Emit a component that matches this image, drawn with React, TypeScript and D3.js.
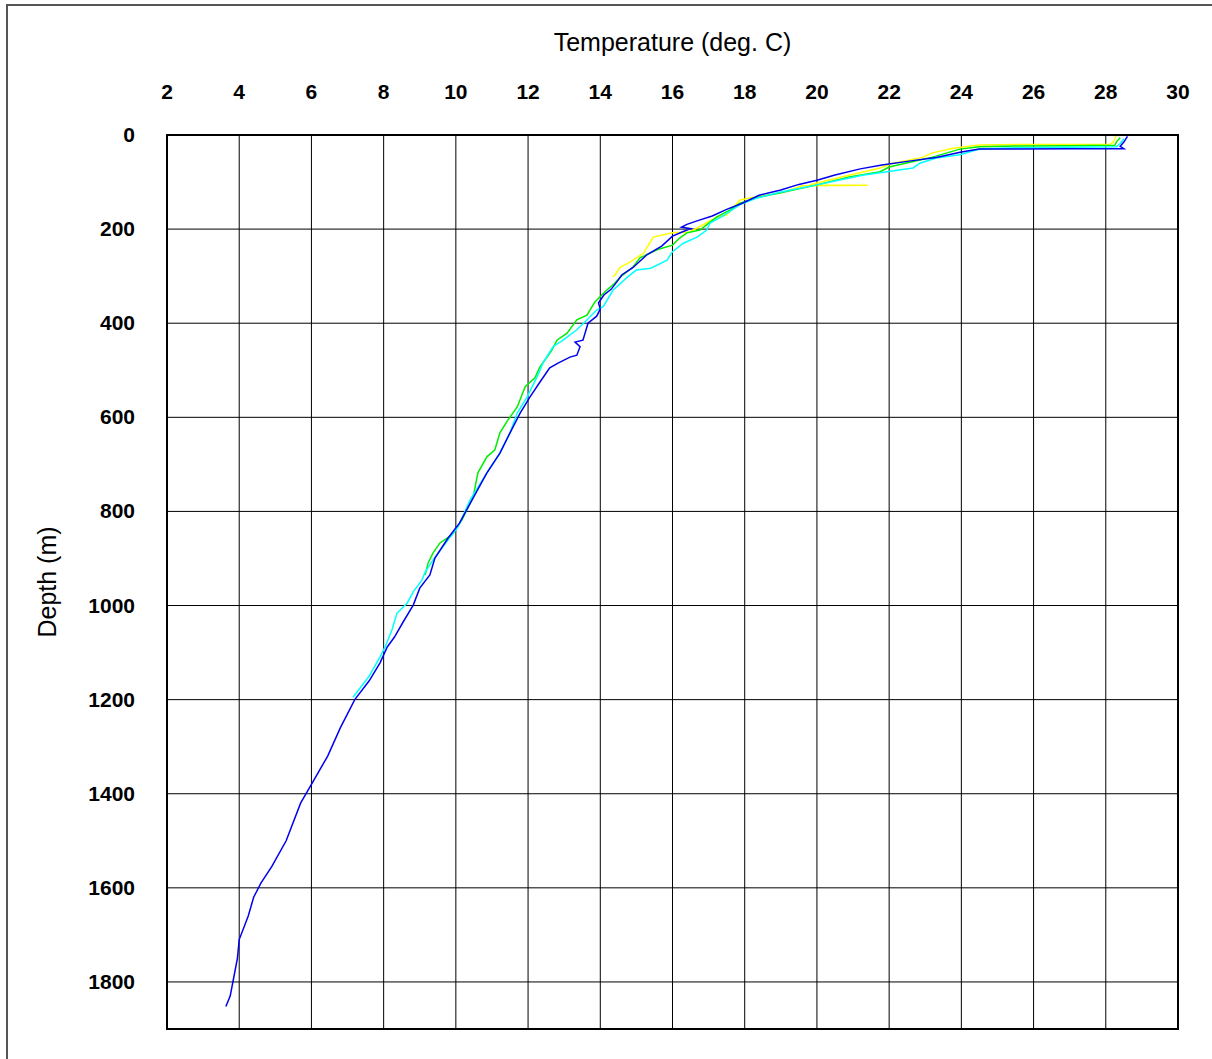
import React from "react";
import * as d3 from "d3";

const xTicks = [2, 4, 6, 8, 10, 12, 14, 16, 18, 20, 22, 24, 26, 28, 30];
const yTicks = [0, 200, 400, 600, 800, 1000, 1200, 1400, 1600, 1800];

// [temperature, depth]
const yellowProfile: [number, number][] = [
  [28.3, 0], [28.25, 8], [28.2, 16], [28.1, 20], [26, 20], [24.5, 21], [23.77, 28], [23.2, 38],
  [22.94, 47], [22.58, 53], [22.1, 60], [21.75, 70], [20.92, 85], [20.0, 102], [19.8, 106],
  [21.4, 107], [19.6, 108], [19.0, 123], [18.4, 130], [17.87, 138], [17.5, 170], [17.2, 176],
  [16.48, 206], [16.0, 208], [15.47, 217], [15.3, 238], [15.2, 251], [14.82, 270],
  [14.55, 281], [14.4, 298], [14.35, 302],
];
const greenProfile: [number, number][] = [
  [28.4, 6], [28.3, 14], [28.25, 22], [27, 23], [25.5, 23.5], [24.5, 25], [23.96, 30],
  [23.2, 47], [22.85, 53], [22.0, 68], [21.75, 78], [20.9, 89], [20.0, 106], [19.0, 123],
  [18.4, 132], [17.87, 145], [17.6, 159], [17.23, 174], [17.04, 185], [16.76, 202],
  [16.4, 208], [16.2, 219], [16.0, 234], [15.57, 244], [15.1, 261], [14.9, 281],
  [14.55, 302], [14.4, 315], [14.19, 329], [13.85, 355], [13.63, 383], [13.35, 393],
  [13.08, 421], [12.8, 436], [12.66, 457], [12.33, 493], [12.19, 516], [11.92, 535],
  [11.7, 578], [11.44, 606], [11.22, 633], [11.08, 669], [10.86, 684], [10.61, 718],
  [10.48, 769], [10.17, 818], [9.89, 850], [9.56, 867], [9.37, 888], [9.23, 910], [9.15, 935],
];
const cyanProfile: [number, number][] = [
  [28.5, 8], [28.4, 18], [28.3, 25], [27, 26], [25.5, 27], [24.5, 30], [23.96, 42],
  [23.3, 49], [22.85, 60], [22.66, 70], [21.94, 78], [21.3, 85], [20.6, 96], [20.0, 106],
  [19.0, 121], [18.3, 135], [17.87, 148], [17.4, 172], [17.04, 187], [16.95, 202],
  [16.68, 217], [16.3, 230], [16.0, 248], [15.85, 266], [15.4, 283], [15.0, 287],
  [14.75, 302], [14.35, 330], [14.08, 365], [13.9, 372], [13.63, 393], [13.35, 414],
  [12.97, 436], [12.69, 450], [12.41, 485], [12.25, 514], [11.97, 557], [11.7, 591],
  [11.5, 633], [11.22, 676], [10.86, 718], [10.4, 775], [10.06, 833], [9.78, 861],
  [9.37, 903], [9.15, 929], [9.06, 946], [8.82, 971], [8.65, 995], [8.37, 1016],
  [8.23, 1052], [8.04, 1088], [7.9, 1109], [7.6, 1150], [7.3, 1180], [7.15, 1195],
];
const blueProfile: [number, number][] = [
  [28.6, 3], [28.5, 15], [28.4, 24], [28.5, 29], [27, 29], [25.5, 29.5], [24.5, 30],
  [24.0, 36], [23.3, 48], [22.6, 55], [21.8, 64], [21.2, 72], [20.5, 85], [20.0, 96],
  [19.5, 105], [19.0, 117], [18.4, 128], [17.9, 146], [17.5, 158], [17.1, 172], [16.7, 182],
  [16.4, 190], [16.25, 196], [16.5, 199], [16.3, 205], [16.0, 215], [15.7, 236], [15.3, 254],
  [14.9, 282], [14.6, 297], [14.5, 308], [14.3, 328], [14.1, 340], [13.95, 357], [14.0, 370],
  [13.9, 385], [13.66, 400], [13.52, 436], [13.3, 440], [13.44, 450], [13.35, 468],
  [13.16, 472], [12.83, 485], [12.6, 495], [12.33, 525], [12.05, 557], [11.78, 591],
  [11.5, 633], [11.22, 676], [10.86, 718], [10.48, 771], [10.1, 825], [9.78, 857],
  [9.42, 899], [9.28, 935], [9.0, 963], [8.82, 999], [8.54, 1035], [8.3, 1067], [8.1, 1088],
  [7.9, 1122], [7.6, 1160], [7.2, 1200], [6.8, 1260], [6.45, 1320], [6.0, 1380],
  [5.7, 1420], [5.3, 1500], [4.9, 1555], [4.6, 1590], [4.4, 1620], [4.25, 1660],
  [4.0, 1710], [3.95, 1750], [3.85, 1790], [3.75, 1830], [3.63, 1852],
];

const series = [
  { name: "yellow", color: "#ffff00", data: yellowProfile },
  { name: "green", color: "#00ee00", data: greenProfile },
  { name: "cyan", color: "#00ffff", data: cyanProfile },
  { name: "blue", color: "#0000f0", data: blueProfile },
];

export default function App() {
  const W = 1212, H = 1059;
  const left = 167, right = 1178, top = 135, bottom = 1029;
  const x = d3.scaleLinear().domain([2, 30]).range([left, right]);
  const y = d3.scaleLinear().domain([0, 1900]).range([top, bottom]);
  const line = d3.line<[number, number]>().x((d) => x(d[0])).y((d) => y(d[1]));
  const font = "Arial, 'Liberation Sans', sans-serif";
  return (
    <svg width={W} height={H} style={{ position: "absolute", left: 0, top: 0, background: "#fff" }}>
      <rect x={7} y={5} width={W} height={H} fill="#fff" stroke="#555" strokeWidth={2} />
      {xTicks.slice(1, -1).map((t) => (
        <line key={"gx" + t} x1={x(t)} x2={x(t)} y1={top} y2={bottom} stroke="#000" strokeWidth={1} />
      ))}
      {yTicks.slice(1).map((t) => (
        <line key={"gy" + t} x1={left} x2={right} y1={y(t)} y2={y(t)} stroke="#000" strokeWidth={1} />
      ))}
      {series.map((s) => (
        <path key={s.name} d={line(s.data) || ""} fill="none" stroke={s.color} strokeWidth={1.5} />
      ))}
      <rect x={left} y={top} width={right - left} height={bottom - top} fill="none" stroke="#000" strokeWidth={2} />
      {xTicks.map((t) => (
        <text key={"tx" + t} x={x(t)} y={99} textAnchor="middle" fontFamily={font} fontWeight="bold" fontSize={21}>
          {t}
        </text>
      ))}
      {yTicks.map((t) => (
        <text key={"ty" + t} x={135} y={y(t) + 7} textAnchor="end" fontFamily={font} fontWeight="bold" fontSize={21}>
          {t}
        </text>
      ))}
      <text x={x(16)} y={51} textAnchor="middle" fontFamily={font} fontSize={25}>
        Temperature (deg. C)
      </text>
      <text transform={`translate(56, ${(top + bottom) / 2}) rotate(-90)`} textAnchor="middle" fontFamily={font} fontSize={25}>
        Depth (m)
      </text>
    </svg>
  );
}
